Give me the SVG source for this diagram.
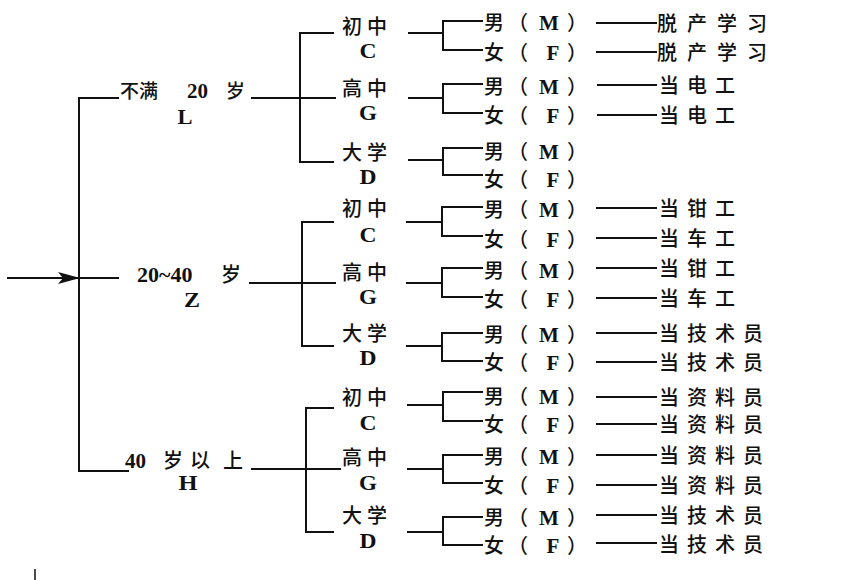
<svg xmlns="http://www.w3.org/2000/svg" width="855" height="580" viewBox="0 0 855 580">
<style>
.ln{stroke:#111;stroke-width:2;fill:none;stroke-linecap:square}
.cj{font-family:"Noto Sans CJK SC","Noto Sans CJK JP",sans-serif;font-size:20px;font-weight:500;fill:#111}
.lt{font-family:"Liberation Serif",serif;font-weight:bold;font-size:21px;fill:#111}
.rs{letter-spacing:8px}
.rw{letter-spacing:10px}
.l2{letter-spacing:5px}
</style>
<defs>
<marker id="ah" viewBox="0 0 22 12" refX="21" refY="6" markerWidth="22" markerHeight="12" markerUnits="userSpaceOnUse" orient="auto">
<path d="M0,0 L22,6 L0,12 L5,6 Z" fill="#111"/>
</marker>
</defs>
<rect width="855" height="580" fill="#fff"/>
<g id="connectors">
<path class="ln" d="M8,278 H79" marker-end="url(#ah)"/>
<path class="ln" d="M79,278 H118"/>
<path class="ln" d="M79,98 V471"/>
<path class="ln" d="M79,98 H118"/>
<path class="ln" d="M79,471 H128"/>
<path class="ln" d="M252,98 H335 M300,33 V162 M300,33 H333 M300,162 H333"/>
<path class="ln" d="M250,283 H335 M302,222 V346 M302,222 H333 M302,346 H333"/>
<path class="ln" d="M252,469 H340 M306,408 V532 M306,408 H333 M306,532 H333"/>
<path class="ln" d="M409,33 H443 M443,21 V50 M443,21 H482 M443,50 H482"/>
<path class="ln" d="M409,98 H443 M443,84 V113 M443,84 H482 M443,113 H482"/>
<path class="ln" d="M409,160 H443 M443,148 V175 M443,148 H482 M443,175 H482"/>
<path class="ln" d="M407,222 H442 M442,207 V236 M442,207 H482 M442,236 H482"/>
<path class="ln" d="M407,283 H442 M442,268 V297 M442,268 H482 M442,297 H482"/>
<path class="ln" d="M407,346 H442 M442,333 V361 M442,333 H482 M442,361 H482"/>
<path class="ln" d="M408,405 H443 M443,392 V421 M443,392 H482 M443,421 H482"/>
<path class="ln" d="M408,469 H443 M443,455 V483 M443,455 H482 M443,483 H482"/>
<path class="ln" d="M408,532 H443 M443,517 V545 M443,517 H482 M443,545 H482"/>
<path class="ln" d="M597,23 H656 M597,52 H656 M598,85 H656 M598,115 H656"/>
<path class="ln" d="M597,208 H656 M597,238 H656 M597,268 H656 M597,298 H656 M597,333 H656 M597,362 H656"/>
<path class="ln" d="M597,397 H656 M597,424 H656 M597,455 H656 M597,485 H656 M597,515 H656 M597,543 H656"/>
<path d="M35,569 V580" stroke="#111" stroke-width="1.5"/>
</g>
<g id="age-L">
<text class="cj" y="98"><tspan x="120" style="font-size:19px">不满</tspan> <tspan class="lt" x="187">20</tspan> <tspan x="226" style="font-size:19px">岁</tspan></text>
<text class="lt" x="185" y="123.5" text-anchor="middle" textLength="15" lengthAdjust="spacingAndGlyphs">L</text>
</g>
<g id="age-Z">
<text class="cj" y="282"><tspan class="lt" x="137" style="font-size:22px">20~40</tspan> <tspan x="221">岁</tspan></text>
<text class="lt" x="192" y="306.5" text-anchor="middle" textLength="16" lengthAdjust="spacingAndGlyphs">Z</text>
</g>
<g id="age-H">
<text class="cj" y="467.5"><tspan class="lt" x="125">40</tspan> <tspan x="163">岁</tspan><tspan x="190">以</tspan><tspan x="223">上</tspan></text>
<text class="lt" x="188" y="489.5" text-anchor="middle" textLength="19" lengthAdjust="spacingAndGlyphs">H</text>
</g>
<g id="L-C"><text class="cj l2" x="342" y="33.5">初中</text><text class="lt" x="368" y="58" text-anchor="middle" textLength="17" lengthAdjust="spacingAndGlyphs">C</text></g>
<g id="L-G"><text class="cj l2" x="342" y="95.5">高中</text><text class="lt" x="368" y="119.5" text-anchor="middle" textLength="18" lengthAdjust="spacingAndGlyphs">G</text></g>
<g id="L-D"><text class="cj l2" x="342" y="159.5">大学</text><text class="lt" x="368" y="183.5" text-anchor="middle" textLength="17" lengthAdjust="spacingAndGlyphs">D</text></g>
<g id="Z-C"><text class="cj l2" x="342" y="215.5">初中</text><text class="lt" x="368" y="241.5" text-anchor="middle" textLength="17" lengthAdjust="spacingAndGlyphs">C</text></g>
<g id="Z-G"><text class="cj l2" x="342" y="279.5">高中</text><text class="lt" x="368" y="303.5" text-anchor="middle" textLength="18" lengthAdjust="spacingAndGlyphs">G</text></g>
<g id="Z-D"><text class="cj l2" x="342" y="340.5">大学</text><text class="lt" x="368" y="364.5" text-anchor="middle" textLength="17" lengthAdjust="spacingAndGlyphs">D</text></g>
<g id="H-C"><text class="cj l2" x="342" y="404.5">初中</text><text class="lt" x="368" y="429.5" text-anchor="middle" textLength="17" lengthAdjust="spacingAndGlyphs">C</text></g>
<g id="H-G"><text class="cj l2" x="342" y="464.5">高中</text><text class="lt" x="368" y="489.5" text-anchor="middle" textLength="18" lengthAdjust="spacingAndGlyphs">G</text></g>
<g id="H-D"><text class="cj l2" x="342" y="523">大学</text><text class="lt" x="368" y="548" text-anchor="middle" textLength="17" lengthAdjust="spacingAndGlyphs">D</text></g>
<g id="L-C-M"><text class="cj" y="29.5"><tspan x="484">男</tspan><tspan x="508">（</tspan><tspan class="lt" x="549" text-anchor="middle">M</tspan><tspan x="567">）</tspan></text></g>
<g id="L-C-F"><text class="cj" y="59.5"><tspan x="484">女</tspan><tspan x="508">（</tspan><tspan class="lt" x="553" text-anchor="middle">F</tspan><tspan x="567">）</tspan></text></g>
<g id="L-G-M"><text class="cj" y="93.5"><tspan x="484">男</tspan><tspan x="508">（</tspan><tspan class="lt" x="549" text-anchor="middle">M</tspan><tspan x="567">）</tspan></text></g>
<g id="L-G-F"><text class="cj" y="122.5"><tspan x="484">女</tspan><tspan x="508">（</tspan><tspan class="lt" x="553" text-anchor="middle">F</tspan><tspan x="567">）</tspan></text></g>
<g id="L-D-M"><text class="cj" y="158.5"><tspan x="484">男</tspan><tspan x="508">（</tspan><tspan class="lt" x="549" text-anchor="middle">M</tspan><tspan x="567">）</tspan></text></g>
<g id="L-D-F"><text class="cj" y="186.5"><tspan x="484">女</tspan><tspan x="508">（</tspan><tspan class="lt" x="553" text-anchor="middle">F</tspan><tspan x="567">）</tspan></text></g>
<g id="Z-C-M"><text class="cj" y="216.5"><tspan x="484">男</tspan><tspan x="508">（</tspan><tspan class="lt" x="549" text-anchor="middle">M</tspan><tspan x="567">）</tspan></text></g>
<g id="Z-C-F"><text class="cj" y="246.5"><tspan x="484">女</tspan><tspan x="508">（</tspan><tspan class="lt" x="553" text-anchor="middle">F</tspan><tspan x="567">）</tspan></text></g>
<g id="Z-G-M"><text class="cj" y="277.5"><tspan x="484">男</tspan><tspan x="508">（</tspan><tspan class="lt" x="549" text-anchor="middle">M</tspan><tspan x="567">）</tspan></text></g>
<g id="Z-G-F"><text class="cj" y="306.5"><tspan x="484">女</tspan><tspan x="508">（</tspan><tspan class="lt" x="553" text-anchor="middle">F</tspan><tspan x="567">）</tspan></text></g>
<g id="Z-D-M"><text class="cj" y="341.5"><tspan x="484">男</tspan><tspan x="508">（</tspan><tspan class="lt" x="549" text-anchor="middle">M</tspan><tspan x="567">）</tspan></text></g>
<g id="Z-D-F"><text class="cj" y="370"><tspan x="484">女</tspan><tspan x="508">（</tspan><tspan class="lt" x="553" text-anchor="middle">F</tspan><tspan x="567">）</tspan></text></g>
<g id="H-C-M"><text class="cj" y="404"><tspan x="484">男</tspan><tspan x="508">（</tspan><tspan class="lt" x="549" text-anchor="middle">M</tspan><tspan x="567">）</tspan></text></g>
<g id="H-C-F"><text class="cj" y="432"><tspan x="484">女</tspan><tspan x="508">（</tspan><tspan class="lt" x="553" text-anchor="middle">F</tspan><tspan x="567">）</tspan></text></g>
<g id="H-G-M"><text class="cj" y="463.5"><tspan x="484">男</tspan><tspan x="508">（</tspan><tspan class="lt" x="549" text-anchor="middle">M</tspan><tspan x="567">）</tspan></text></g>
<g id="H-G-F"><text class="cj" y="492.5"><tspan x="484">女</tspan><tspan x="508">（</tspan><tspan class="lt" x="553" text-anchor="middle">F</tspan><tspan x="567">）</tspan></text></g>
<g id="H-D-M"><text class="cj" y="524.5"><tspan x="484">男</tspan><tspan x="508">（</tspan><tspan class="lt" x="549" text-anchor="middle">M</tspan><tspan x="567">）</tspan></text></g>
<g id="H-D-F"><text class="cj" y="553"><tspan x="484">女</tspan><tspan x="508">（</tspan><tspan class="lt" x="553" text-anchor="middle">F</tspan><tspan x="567">）</tspan></text></g>
<g id="results">
<text class="cj rw" x="657" y="30.5">脱产学习</text>
<text class="cj rw" x="657" y="59.5">脱产学习</text>
<text class="cj rs" x="659" y="92.5">当电工</text>
<text class="cj rs" x="659" y="122.5">当电工</text>
<text class="cj rs" x="659" y="215.5">当钳工</text>
<text class="cj rs" x="659" y="245.5">当车工</text>
<text class="cj rs" x="659" y="275.5">当钳工</text>
<text class="cj rs" x="659" y="305.5">当车工</text>
<text class="cj rs" x="659" y="340.5">当技术员</text>
<text class="cj rs" x="659" y="369.5">当技术员</text>
<text class="cj rs" x="659" y="404.5">当资料员</text>
<text class="cj rs" x="659" y="432">当资料员</text>
<text class="cj rs" x="659" y="462.5">当资料员</text>
<text class="cj rs" x="659" y="492.5">当资料员</text>
<text class="cj rs" x="659" y="522.5">当技术员</text>
<text class="cj rs" x="659" y="551.5">当技术员</text>
</g>
</svg>
